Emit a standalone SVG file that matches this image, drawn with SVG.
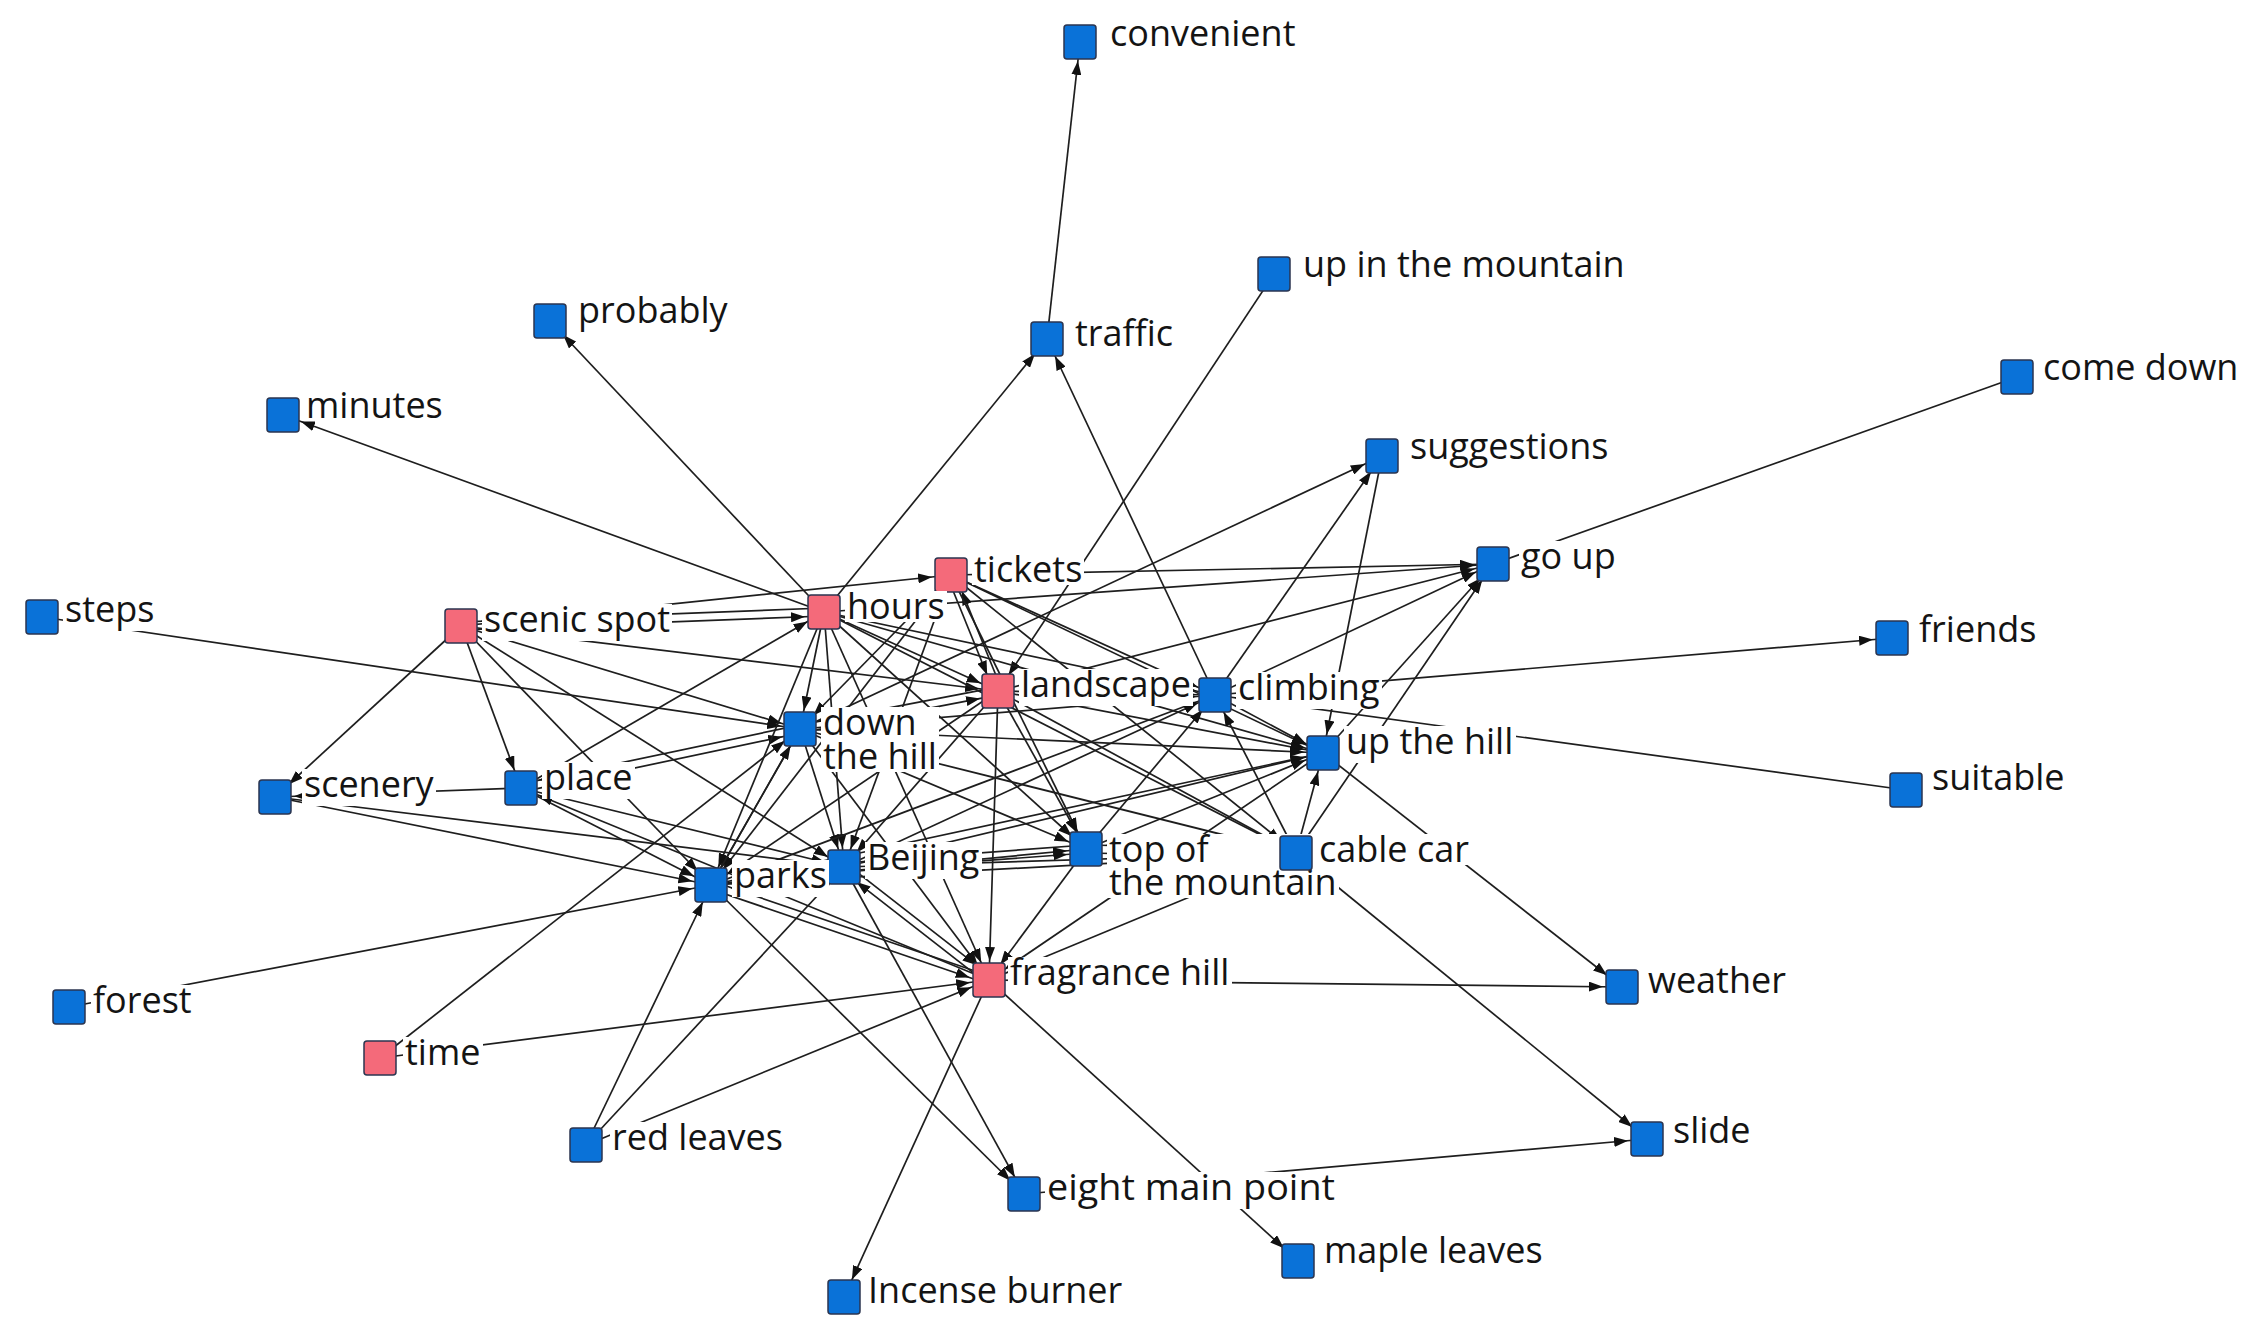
<svg xmlns="http://www.w3.org/2000/svg" width="2251" height="1342" viewBox="0 0 2251 1342">
<defs>
<marker id="ah" viewBox="0 0 14 10" refX="33" refY="5" markerWidth="14" markerHeight="10" markerUnits="userSpaceOnUse" orient="auto"><path d="M0,0 L14,5 L0,10 z" fill="#111"/></marker>
<style>
.e line{stroke:#1e1e1e;stroke-width:1.7;marker-end:url(#ah)}
.e line.u{marker-end:none}
.box{stroke:#2b3550;stroke-width:1.5}
.b .box{fill:#0a72d8}
.p .box{fill:#f46a7a}
.lb{fill:#fff}
text{font-family:"Open Sans","Noto Sans",sans-serif;font-size:36px;fill:#141414}
</style>
</defs>
<rect width="2251" height="1342" fill="#fff"/>
<g id="edges" class="e">
<line x1="1047" y1="339" x2="1080" y2="42"/>
<line x1="824" y1="612" x2="283" y2="415"/>
<line x1="824" y1="612" x2="550" y2="321"/>
<line x1="824" y1="612" x2="1047" y2="339"/>
<line x1="1215" y1="695" x2="1047" y2="339"/>
<line x1="1274" y1="274" x2="998" y2="691"/>
<line class="u" x1="1493" y1="564" x2="2017" y2="377"/>
<line x1="1215" y1="695" x2="1892" y2="638"/>
<line x1="1906" y1="790" x2="1215" y2="695"/>
<line x1="989" y1="980" x2="1622" y2="987"/>
<line x1="1323" y1="753" x2="1622" y2="987"/>
<line x1="1296" y1="853" x2="1647" y2="1139"/>
<line x1="1024" y1="1194" x2="1647" y2="1139"/>
<line x1="989" y1="980" x2="1298" y2="1261"/>
<line x1="989" y1="980" x2="844" y2="1297"/>
<line x1="711" y1="885" x2="1024" y2="1194"/>
<line x1="844" y1="867" x2="1024" y2="1194"/>
<line x1="586" y1="1145" x2="711" y2="885"/>
<line x1="586" y1="1145" x2="844" y2="867"/>
<line x1="586" y1="1145" x2="989" y2="980"/>
<line x1="380" y1="1058" x2="989" y2="980"/>
<line x1="380" y1="1058" x2="800" y2="729"/>
<line x1="69" y1="1007" x2="711" y2="885"/>
<line x1="275" y1="797" x2="711" y2="885"/>
<line x1="275" y1="797" x2="844" y2="867"/>
<line x1="521" y1="788" x2="275" y2="797"/>
<line x1="461" y1="626" x2="275" y2="797"/>
<line x1="461" y1="626" x2="521" y2="788"/>
<line x1="461" y1="626" x2="800" y2="729"/>
<line x1="461" y1="626" x2="711" y2="885"/>
<line x1="461" y1="626" x2="844" y2="867"/>
<line x1="461" y1="630" x2="824" y2="616"/>
<line x1="824" y1="608" x2="461" y2="622"/>
<line x1="461" y1="626" x2="998" y2="691"/>
<line x1="461" y1="626" x2="951" y2="575"/>
<line x1="42" y1="617" x2="800" y2="729"/>
<line x1="521" y1="788" x2="824" y2="612"/>
<line x1="521.8" y1="791.9" x2="800.8" y2="732.9"/>
<line x1="799.2" y1="725.1" x2="520.2" y2="784.1"/>
<line x1="521" y1="788" x2="711" y2="885"/>
<line x1="521" y1="788" x2="844" y2="867"/>
<line x1="989" y1="980" x2="521" y2="788"/>
<line x1="800" y1="729" x2="1382" y2="456"/>
<line x1="1215" y1="695" x2="1382" y2="456"/>
<line x1="1382" y1="456" x2="1323" y2="753"/>
<line x1="824" y1="612" x2="1493" y2="564"/>
<line x1="951" y1="575" x2="1493" y2="564"/>
<line x1="998" y1="691" x2="1493" y2="564"/>
<line x1="1215" y1="695" x2="1493" y2="564"/>
<line x1="1323" y1="753" x2="1493" y2="564"/>
<line x1="1296" y1="853" x2="1493" y2="564"/>
<line x1="824" y1="612" x2="800" y2="729"/>
<line x1="824" y1="612" x2="711" y2="885"/>
<line x1="824" y1="612" x2="844" y2="867"/>
<line x1="824" y1="612" x2="998" y2="691"/>
<line x1="824" y1="612" x2="1215" y2="695"/>
<line x1="824" y1="612" x2="1323" y2="753"/>
<line x1="824" y1="612" x2="1296" y2="853"/>
<line x1="824" y1="612" x2="1086" y2="849"/>
<line x1="824" y1="612" x2="989" y2="980"/>
<line x1="1001.7" y1="689.5" x2="954.7" y2="573.5"/>
<line x1="947.3" y1="576.5" x2="994.3" y2="692.5"/>
<line x1="951" y1="575" x2="1323" y2="753"/>
<line x1="951" y1="575" x2="1215" y2="695"/>
<line x1="951" y1="575" x2="800" y2="729"/>
<line x1="951" y1="575" x2="1296" y2="853"/>
<line x1="951" y1="575" x2="711" y2="885"/>
<line x1="951" y1="575" x2="844" y2="867"/>
<line x1="951" y1="575" x2="1086" y2="849"/>
<line x1="998" y1="691" x2="989" y2="980"/>
<line x1="998" y1="691" x2="1323" y2="753"/>
<line x1="998" y1="691" x2="1215" y2="695"/>
<line x1="998" y1="691" x2="1296" y2="853"/>
<line x1="998" y1="691" x2="1086" y2="849"/>
<line x1="998" y1="691" x2="844" y2="867"/>
<line x1="998" y1="691" x2="711" y2="885"/>
<line x1="997.2" y1="687.1" x2="799.2" y2="725.1"/>
<line x1="800.8" y1="732.9" x2="998.8" y2="694.9"/>
<line x1="800" y1="729" x2="711" y2="885"/>
<line x1="800" y1="729" x2="844" y2="867"/>
<line x1="800" y1="729" x2="989" y2="980"/>
<line x1="800" y1="729" x2="1215" y2="695"/>
<line x1="800" y1="729" x2="1323" y2="753"/>
<line x1="800" y1="729" x2="1296" y2="853"/>
<line x1="800" y1="729" x2="1086" y2="849"/>
<line x1="844.3" y1="871" x2="1086.3" y2="853"/>
<line x1="1085.7" y1="845" x2="843.7" y2="863"/>
<line x1="844" y1="867" x2="1296" y2="853"/>
<line x1="844" y1="867" x2="1323" y2="753"/>
<line x1="844" y1="867" x2="1215" y2="695"/>
<line x1="846.4" y1="863.8" x2="991.4" y2="976.8"/>
<line x1="986.6" y1="983.2" x2="841.6" y2="870.2"/>
<line x1="711" y1="885" x2="844" y2="867"/>
<line x1="709.7" y1="888.7" x2="987.7" y2="983.7"/>
<line x1="990.3" y1="976.3" x2="712.3" y2="881.3"/>
<line x1="711" y1="885" x2="800" y2="729"/>
<line x1="711" y1="885" x2="1215" y2="695"/>
<line x1="711" y1="885" x2="1323" y2="753"/>
<line x1="711" y1="885" x2="1086" y2="849"/>
<line x1="711" y1="885" x2="1296" y2="853"/>
<line x1="1086" y1="853" x2="1296" y2="857"/>
<line x1="1296" y1="849" x2="1086" y2="845"/>
<line x1="1086" y1="849" x2="1323" y2="753"/>
<line x1="1086" y1="849" x2="1215" y2="695"/>
<line x1="1086" y1="849" x2="989" y2="980"/>
<line x1="1296" y1="853" x2="1323" y2="753"/>
<line x1="1296" y1="853" x2="1215" y2="695"/>
<line x1="1296" y1="853" x2="989" y2="980"/>
<line x1="1323" y1="753" x2="989" y2="980"/>
<line x1="1215" y1="695" x2="1323" y2="753"/>
</g>
<g id="nodes">
<g id="n-convenient" class="b"><rect class="lb" x="1108" y="18" width="189" height="31"/><text x="1110" y="46">convenient</text><rect class="box" x="1064" y="25" width="32" height="34" rx="3"/></g>
<g id="n-up-in-the-mountain" class="b"><rect class="lb" x="1301" y="249" width="326" height="37"/><text x="1303" y="277">up in the mountain</text><rect class="box" x="1258" y="257" width="32" height="34" rx="3"/></g>
<g id="n-probably" class="b"><rect class="lb" x="576" y="295" width="154" height="37"/><text x="578" y="323">probably</text><rect class="box" x="534" y="304" width="32" height="34" rx="3"/></g>
<g id="n-traffic" class="b"><rect class="lb" x="1073" y="318" width="102" height="31"/><text x="1075" y="346">traffic</text><rect class="box" x="1031" y="322" width="32" height="34" rx="3"/></g>
<g id="n-minutes" class="b"><rect class="lb" x="304" y="390" width="141" height="31"/><text x="306" y="418">minutes</text><rect class="box" x="267" y="398" width="32" height="34" rx="3"/></g>
<g id="n-come-down" class="b"><rect class="lb" x="2041" y="352" width="200" height="31"/><text x="2043" y="380">come down</text><rect class="box" x="2001" y="360" width="32" height="34" rx="3"/></g>
<g id="n-suggestions" class="b"><rect class="lb" x="1408" y="431" width="203" height="37"/><text x="1410" y="459">suggestions</text><rect class="box" x="1366" y="439" width="32" height="34" rx="3"/></g>
<g id="n-go-up" class="b"><rect class="lb" x="1519" y="541" width="99" height="37"/><text x="1521" y="569">go up</text><rect class="box" x="1477" y="547" width="32" height="34" rx="3"/></g>
<g id="n-tickets" class="p"><rect class="lb" x="972" y="554" width="112" height="31"/><text x="974" y="582">tickets</text><rect class="box" x="935" y="558" width="32" height="34" rx="3"/></g>
<g id="n-hours" class="p"><rect class="lb" x="845" y="591" width="102" height="31"/><text x="847" y="619">hours</text><rect class="box" x="808" y="595" width="32" height="34" rx="3"/></g>
<g id="n-steps" class="b"><rect class="lb" x="63" y="594" width="93" height="37"/><text x="65" y="622">steps</text><rect class="box" x="26" y="600" width="32" height="34" rx="3"/></g>
<g id="n-scenic-spot" class="p"><rect class="lb" x="482" y="604" width="190" height="37"/><text x="484" y="632">scenic spot</text><rect class="box" x="445" y="609" width="32" height="34" rx="3"/></g>
<g id="n-friends" class="b"><rect class="lb" x="1917" y="614" width="122" height="31"/><text x="1919" y="642">friends</text><rect class="box" x="1876" y="621" width="32" height="34" rx="3"/></g>
<g id="n-landscape" class="p"><rect class="lb" x="1019" y="669" width="174" height="37"/><text x="1021" y="697">landscape</text><rect class="box" x="982" y="674" width="32" height="34" rx="3"/></g>
<g id="n-climbing" class="b"><rect class="lb" x="1236" y="672" width="146" height="37"/><text x="1238" y="700">climbing</text><rect class="box" x="1199" y="678" width="32" height="34" rx="3"/></g>
<g id="n-down-the-hill" class="b"><rect class="lb" x="821" y="707" width="118" height="65"/><text x="823" y="735">down<tspan x="823" dy="34">the hill</tspan></text><rect class="box" x="784" y="712" width="32" height="34" rx="3"/></g>
<g id="n-up-the-hill" class="b"><rect class="lb" x="1344" y="726" width="172" height="37"/><text x="1346" y="754">up the hill</text><rect class="box" x="1307" y="736" width="32" height="34" rx="3"/></g>
<g id="n-suitable" class="b"><rect class="lb" x="1930" y="762" width="137" height="31"/><text x="1932" y="790">suitable</text><rect class="box" x="1890" y="773" width="32" height="34" rx="3"/></g>
<g id="n-scenery" class="b"><rect class="lb" x="302" y="769" width="134" height="37"/><text x="304" y="797">scenery</text><rect class="box" x="259" y="780" width="32" height="34" rx="3"/></g>
<g id="n-place" class="b"><rect class="lb" x="542" y="762" width="93" height="37"/><text x="544" y="790">place</text><rect class="box" x="505" y="771" width="32" height="34" rx="3"/></g>
<g id="n-beijing" class="b"><rect class="lb" x="865" y="842" width="117" height="37"/><text x="867" y="870">Beijing</text><rect class="box" x="828" y="850" width="32" height="34" rx="3"/></g>
<g id="n-top-of-the-mountain" class="b"><rect class="lb" x="1107" y="834" width="232" height="64"/><text x="1109" y="862">top of<tspan x="1109" dy="33">the mountain</tspan></text><rect class="box" x="1070" y="832" width="32" height="34" rx="3"/></g>
<g id="n-cable-car" class="b"><rect class="lb" x="1317" y="834" width="154" height="31"/><text x="1319" y="862">cable car</text><rect class="box" x="1280" y="836" width="32" height="34" rx="3"/></g>
<g id="n-parks" class="b"><rect class="lb" x="732" y="860" width="97" height="37"/><text x="734" y="888">parks</text><rect class="box" x="695" y="868" width="32" height="34" rx="3"/></g>
<g id="n-fragrance-hill" class="p"><rect class="lb" x="1008" y="957" width="224" height="37"/><text x="1010" y="985">fragrance hill</text><rect class="box" x="973" y="963" width="32" height="34" rx="3"/></g>
<g id="n-weather" class="b"><rect class="lb" x="1646" y="965" width="142" height="31"/><text x="1648" y="993">weather</text><rect class="box" x="1606" y="970" width="32" height="34" rx="3"/></g>
<g id="n-forest" class="b"><rect class="lb" x="91" y="985" width="103" height="31"/><text x="93" y="1013">forest</text><rect class="box" x="53" y="990" width="32" height="34" rx="3"/></g>
<g id="n-time" class="p"><rect class="lb" x="403" y="1037" width="80" height="31"/><text x="405" y="1065">time</text><rect class="box" x="364" y="1041" width="32" height="34" rx="3"/></g>
<g id="n-slide" class="b"><rect class="lb" x="1671" y="1115" width="82" height="31"/><text x="1673" y="1143">slide</text><rect class="box" x="1631" y="1122" width="32" height="34" rx="3"/></g>
<g id="n-red-leaves" class="b"><rect class="lb" x="610" y="1122" width="175" height="31"/><text x="612" y="1150">red leaves</text><rect class="box" x="570" y="1128" width="32" height="34" rx="3"/></g>
<g id="n-eight-main-point" class="b"><rect class="lb" x="1045" y="1172" width="292" height="37"/><text x="1047" y="1200" textLength="288" lengthAdjust="spacingAndGlyphs">eight main point</text><rect class="box" x="1008" y="1177" width="32" height="34" rx="3"/></g>
<g id="n-maple-leaves" class="b"><rect class="lb" x="1322" y="1235" width="223" height="37"/><text x="1324" y="1263">maple leaves</text><rect class="box" x="1282" y="1244" width="32" height="34" rx="3"/></g>
<g id="n-incense-burner" class="b"><rect class="lb" x="866" y="1275" width="256" height="31"/><text x="868" y="1303">Incense burner</text><rect class="box" x="828" y="1280" width="32" height="34" rx="3"/></g>
</g>
</svg>
